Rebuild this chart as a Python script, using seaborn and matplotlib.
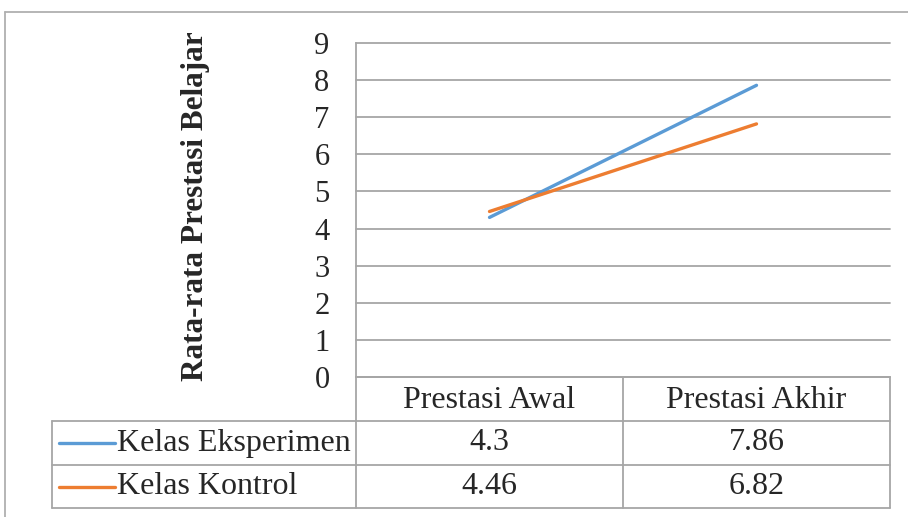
import pandas as pd
import matplotlib.pyplot as plt
from matplotlib.lines import Line2D
import seaborn as sns

# data
stages = ["Prestasi Awal", "Prestasi Akhir"]
groups = ["Kelas Eksperimen", "Kelas Kontrol"]
eksperimen = [4.3, 7.86]
kontrol = [4.46, 6.82]
colors = ["#5B9BD5", "#ED7D31"]
y_label = "Rata-rata Prestasi Belajar"

df = pd.DataFrame({
    "tahap": stages * 2,
    "nilai": eksperimen + kontrol,
    "kelas": [groups[0]] * 2 + [groups[1]] * 2,
})

sns.set_theme(style="white")
plt.rcParams["font.family"] = ["Liberation Serif", "DejaVu Serif"]

W, H = 908, 517
fig = plt.figure(figsize=(W / 100, H / 100), dpi=100)

def fx(x):
    return x / W

def fy(y):
    return 1 - y / H

grid_c = "#a6a6a6"
fs = 23

# plot area (pixel box 356..890, 43..377)
left, right, top, bottom = 356, 890, 43, 377
ax = fig.add_axes([fx(left), fy(bottom), fx(right - left), (bottom - top) / H])
sns.lineplot(data=df, x="tahap", y="nilai", hue="kelas", palette=colors,
             sort=False, legend=False, linewidth=2.4, ax=ax)
ax.set_xlim(-0.5, 1.5)
ax.set_ylim(0, 9)
ax.set_yticks(range(0, 10))
ax.set_xticks([])
ax.set_xlabel("")
ax.set_ylabel("")
ax.tick_params(axis="y", labelsize=22, pad=19, length=0)
ax.grid(axis="y", color=grid_c, linewidth=1.3)
for gl in ax.get_ygridlines():
    gl.set_clip_on(False)
for s in ["top", "right", "bottom"]:
    ax.spines[s].set_visible(False)
ax.spines["left"].set_color(grid_c)
ax.spines["left"].set_linewidth(1.3)

fig.text(fx(195), fy(206), y_label, rotation=90, ha="center", va="center",
         fontsize=22.5, fontweight="bold")

# data table
def hline(x0, x1, y):
    fig.add_artist(Line2D([fx(x0), fx(x1)], [fy(y), fy(y)], color=grid_c, lw=1.3))

def vline(x, y0, y1):
    fig.add_artist(Line2D([fx(x), fx(x)], [fy(y0), fy(y1)], color=grid_c, lw=1.3))

rows_y = [377, 421, 465, 508]
cols_x = [356, 623, 890]
hline(356, 890, rows_y[0])
for y in rows_y[1:]:
    hline(52, 890, y)
for x in cols_x:
    vline(x, rows_y[0], rows_y[-1])
vline(52, rows_y[1], rows_y[-1])

col_centers = [(cols_x[i] + cols_x[i + 1]) / 2 for i in range(2)]
for cx, lab in zip(col_centers, stages):
    fig.text(fx(cx), fy(400), lab, ha="center", va="center", fontsize=fs)

for i, (g, vals, c) in enumerate(zip(groups, [eksperimen, kontrol], colors)):
    yc = (rows_y[i + 1] + rows_y[i + 2]) / 2
    fig.add_artist(Line2D([fx(59), fx(115)], [fy(yc), fy(yc)], color=c, lw=2.4))
    fig.text(fx(117), fy(yc), g, ha="left", va="center", fontsize=fs)
    for cx, v in zip(col_centers, vals):
        fig.text(fx(cx), fy(yc), f"{v:g}", ha="center", va="center", fontsize=fs)

# outer frame
fig.add_artist(Line2D([fx(5), fx(W)], [fy(12), fy(12)], color="#b0b0b0", lw=1.3))
fig.add_artist(Line2D([fx(5), fx(5)], [fy(12), fy(H)], color="#b0b0b0", lw=1.3))

fig.savefig("out.png", dpi=100)
